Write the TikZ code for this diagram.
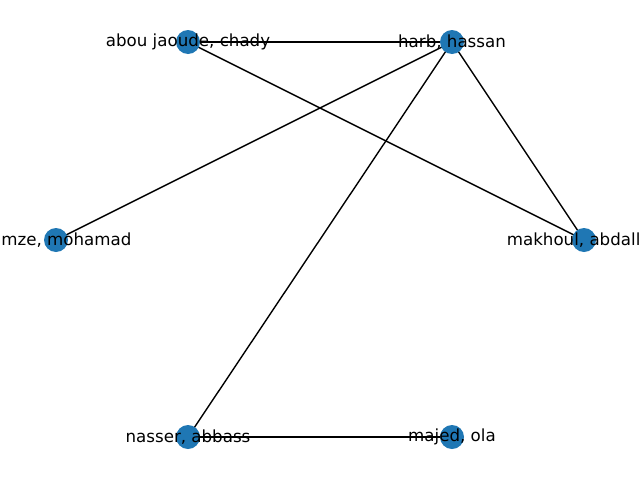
\documentclass[tikz,border=0pt]{standalone}
\usepackage{fontspec}
\setmainfont{DejaVu Sans}
\definecolor{nodeblue}{HTML}{1F77B4}
\begin{document}
\begin{tikzpicture}[x=0.72pt,y=-0.72pt,
    person/.style={fill=nodeblue},
    tag/.style={font=\fontsize{12}{14}\selectfont,inner sep=0pt}]
        \useasboundingbox (0,0) rectangle (640,480);
        \clip (0,0) rectangle (640,480);
        \coordinate (abou) at (188,42);
        \coordinate (harb) at (452,42);
        \coordinate (hamze) at (56,240);
        \coordinate (makhoul) at (584,240);
        \coordinate (nasser) at (188,437);
        \coordinate (majed) at (452,437);
        \draw[line width=1pt] (abou) -- (harb);
        \draw[line width=1pt] (abou) -- (makhoul);
        \draw[line width=1pt] (harb) -- (hamze);
        \draw[line width=1pt] (harb) -- (nasser);
        \draw[line width=1pt] (harb) -- (makhoul);
        \draw[line width=1pt] (nasser) -- (majed);
        \fill[person] (abou) circle (12) node[tag] {abou jaoude, chady};
        \fill[person] (harb) circle (12) node[tag] {harb, hassan};
        \fill[person] (hamze) circle (12) node[tag] {hamze, mohamad};
        \fill[person] (makhoul) circle (12) node[tag] {makhoul, abdallah};
        \fill[person] (nasser) circle (12) node[tag] {nasser, abbass};
        \fill[person] (majed) circle (12) node[tag] {majed, ola};
    \end{tikzpicture}
\end{document}
